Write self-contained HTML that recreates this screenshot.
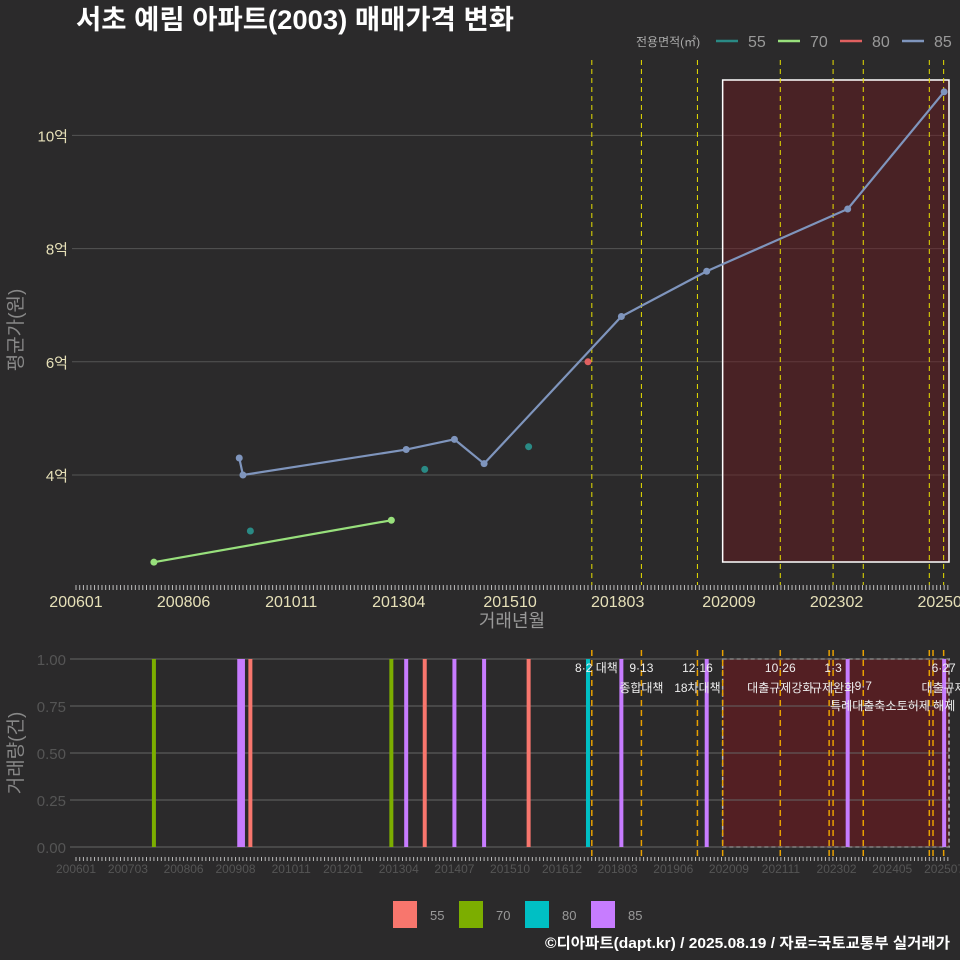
<!DOCTYPE html>
<html><head><meta charset="utf-8">
<style>
html,body{margin:0;padding:0;background:#2b2a2b;}
svg{display:block;font-family:"Liberation Sans","Noto Sans CJK KR",sans-serif;}
</style></head>
<body>
<svg id="chart" width="960" height="960" viewBox="0 0 960 960" xmlns="http://www.w3.org/2000/svg">
<rect x="0" y="0" width="960" height="960" fill="#2b2a2b"/>
<text x="76" y="29" fill="#ffffff" font-size="27" font-weight="bold" textLength="438" lengthAdjust="spacingAndGlyphs">서초 예림 아파트(2003) 매매가격 변화</text>
<g id="topPanel"></g>
<g id="botPanel"></g>
<text x="950" y="948" fill="#ffffff" font-size="15" font-weight="bold" text-anchor="end" textLength="405" lengthAdjust="spacingAndGlyphs">©디아파트(dapt.kr) / 2025.08.19 / 자료=국토교통부 실거래가</text>
</svg>
<script>
// ---- data ----
const series85Months = ["200909","200910","201306","201407","201503","201804","202003","202305","202507"];
const series85Values = [4.3,4.0,4.45,4.63,4.2,6.8,7.6,8.7,10.77];
const series70Months = ["200710","201302"];
const series70Values = [2.46,3.2];
const series55Months = ["200912","201311","201603"];
const series55Values = [3.01,4.1,4.5];
const series80Months = ["201707"];
const series80Values = [6.0];
const volumeMonths = ["200710","200909","200910","200912","201302","201306","201311","201407","201503","201603","201707","201804","202003","202305","202507"];
const volumeTypes  = ["70","85","85","55","70","85","55","85","85","55","80","85","85","85","85"];
const volumeCounts = [1,1,1,1,1,1,1,1,1,1,1,1,1,1,1];
const topTickValues = [4,6,8,10];
const topTickLabels = ["4억","6억","8억","10억"];
const topXLabels = ["200601","200806","201011","201304","201510","201803","202009","202302","202507"];
const botXLabels = ["200601","200703","200806","200908","201011","201201","201304","201407","201510","201612","201803","201906","202009","202111","202302","202405","202507"];
const botTickValues = [0,0.25,0.5,0.75,1];
const botTickLabels = ["0.00","0.25","0.50","0.75","1.00"];
const policyDates = ["20170802","20180913","20191216","20200710","20211026","20221201","20230103","20230907","20250301","20250401","20250627"];
const policyTop = [1,1,1,0,1,0,1,1,1,0,1];
const annoDates = ["20170802","20180913","20191216","20211026","20230103","20230907","20250627"];
const annoLine1 = ["8·2 대책","9·13","12·16","10·26","1·3","9·7","6·27"];
const annoLine2 = ["","종합대책","18차대책","대출규제강화","규제완화","특례대출축소","대출규제"];
const shadeStart = "20200710";

// ---- scales ----
const NS="http://www.w3.org/2000/svg";
function monthIdx(s){return (+s.slice(0,4)-2006)*12+(+s.slice(4,6)-1)+(s.length>6?(+s.slice(6,8)-1)/30:0);}
function x(s){return 76+3.71*monthIdx(s);}
function yTop(v){return 475-(v-4)*56.6;}
function yBot(v){return 847-v*188;}
function mk(parent,tag,attrs,text){const e=document.createElementNS(NS,tag);for(const k in attrs)e.setAttribute(k,attrs[k]);if(text!==undefined)e.textContent=text;parent.appendChild(e);return e;}
const topG=document.getElementById('topPanel'), botG=document.getElementById('botPanel');
const colTop={"55":"#2a8a85","70":"#98e07c","80":"#e06060","85":"#7f95bd"};
const colBot={"55":"#F8766D","70":"#7CAE00","80":"#00BFC4","85":"#C77CFF"};
const xEnd=949;

topTickValues.forEach((v,i)=>{
  let g=mk(topG,'line',{x1:72,x2:xEnd,y1:yTop(v),y2:yTop(v),stroke:'#555',"stroke-width":1});
  
  
  let t=mk(topG,'text',{x:68,y:yTop(v)+6,fill:'#e6e0b8',"font-size":15,"text-anchor":"end"},topTickLabels[i]);
  
  
});
let sh=mk(topG,'rect',{x:x(shadeStart),y:80,width:xEnd-x(shadeStart),height:482,fill:'rgba(110,25,30,0.45)',stroke:'#fff',"stroke-width":1.5});


policyDates.forEach((d,i)=>{ if(!policyTop[i])return;
  let l=mk(topG,'line',{x1:x(d),x2:x(d),y1:60,y2:585,stroke:'#e8e000',"stroke-width":1,"stroke-dasharray":"5,4"});
  
  
});
for(let m=0;m<=235;m++){let xx=76+3.71*m;
  let a=mk(topG,'line',{x1:xx,x2:xx,y1:585,y2:590,stroke:'#bbb',"stroke-width":1});
  
  
  let b=mk(botG,'line',{x1:xx,x2:xx,y1:857,y2:861,stroke:'#bbb',"stroke-width":1});
  
  
}
topXLabels.forEach(s=>{
  let t=mk(topG,'text',{x:x(s),y:607,fill:'#e6e0b8',"font-size":16,"text-anchor":"middle"},s);
  
  
});
let xt=mk(topG,'text',{x:512,y:627,fill:'#999',"font-size":18,"text-anchor":"middle"},'거래년월');


let yt=mk(topG,'text',{x:22,y:330,fill:'#888',"font-size":19,"text-anchor":"middle",transform:'rotate(-90 22 330)'},'평균가(원)');


function drawSeries(months,vals,key,line){
  if(line&&months.length>1){
    let p=mk(topG,'polyline',{points:months.map((m,i)=>x(m)+','+yTop(vals[i])).join(' '),fill:'none',stroke:colTop[key],"stroke-width":2.2});
    
    
  }
  months.forEach((m,i)=>{
    let c=mk(topG,'circle',{cx:x(m),cy:yTop(vals[i]),r:3.5,fill:colTop[key]});
    
    
  });
}
drawSeries(series70Months,series70Values,"70",true);
drawSeries(series85Months,series85Values,"85",true);
drawSeries(series55Months,series55Values,"55",false);
drawSeries(series80Months,series80Values,"80",false);
let lt=mk(topG,'text',{x:636,y:46,fill:'#aaa',"font-size":12},'전용면적(㎡)');


["55","70","80","85"].forEach((k,i)=>{
  let bx=716+i*62;
  let l=mk(topG,'line',{x1:bx,x2:bx+22,y1:41,y2:41,stroke:colTop[k],"stroke-width":2.5});
  
  
  let t=mk(topG,'text',{x:bx+32,y:47,fill:'#999',"font-size":16},k);
  
  
});

// ---- bottom panel ----
let bs=mk(botG,'rect',{x:x(shadeStart),y:659,width:xEnd-x(shadeStart),height:188,fill:'rgba(110,25,30,0.6)',stroke:'#bbb',"stroke-width":1.5,"stroke-dasharray":"4,3"});


botTickValues.forEach((v,i)=>{
  let g=mk(botG,'line',{x1:70,x2:xEnd,y1:yBot(v),y2:yBot(v),stroke:'#666',"stroke-width":1});
  
  
  let t=mk(botG,'text',{x:66,y:yBot(v)+6,fill:'#555',"font-size":15,"text-anchor":"end"},botTickLabels[i]);
  
  
});
policyDates.forEach(d=>{
  let l=mk(botG,'line',{x1:x(d),x2:x(d),y1:650,y2:857,stroke:'#e8a000',"stroke-width":1.5,"stroke-dasharray":"6,4"});
  
  
});
volumeMonths.forEach((m,i)=>{
  let b=mk(botG,'rect',{x:x(m)-2,y:yBot(volumeCounts[i]),width:4,height:yBot(0)-yBot(volumeCounts[i]),fill:colBot[volumeTypes[i]]});
  
  
});
annoDates.forEach((d,i)=>{
  let xx=x(d);
  let off=(i===5)?18:0;
  let t1=mk(botG,'text',{x:i===0?xx+26:xx,y:672+off,fill:'#eee',"font-size":12,"text-anchor":i===0?"end":"middle"},annoLine1[i]);
  
  
  if(annoLine2[i]){
    let t2=mk(botG,'text',{x:xx,y:692+off,fill:'#eee',"font-size":12,"text-anchor":"middle"},annoLine2[i]);
    
    
  }
});
let tz=mk(botG,'text',{x:926,y:710,fill:'#eee',"font-size":12,"text-anchor":"middle"},'토허제 해제');


botXLabels.forEach(s=>{
  let t=mk(botG,'text',{x:x(s),y:873,fill:'#555',"font-size":12,"text-anchor":"middle"},s);
  
  
});
let yb=mk(botG,'text',{x:22,y:753,fill:'#888',"font-size":19,"text-anchor":"middle",transform:'rotate(-90 22 753)'},'거래량(건)');


["55","70","80","85"].forEach((k,i)=>{
  let bx=393+i*66;
  let r=mk(botG,'rect',{x:bx,y:901,width:24,height:27,fill:colBot[k]});
  
  
  let t=mk(botG,'text',{x:bx+37,y:920,fill:'#999',"font-size":13},k);
  
  
});
</script>
</body></html>
